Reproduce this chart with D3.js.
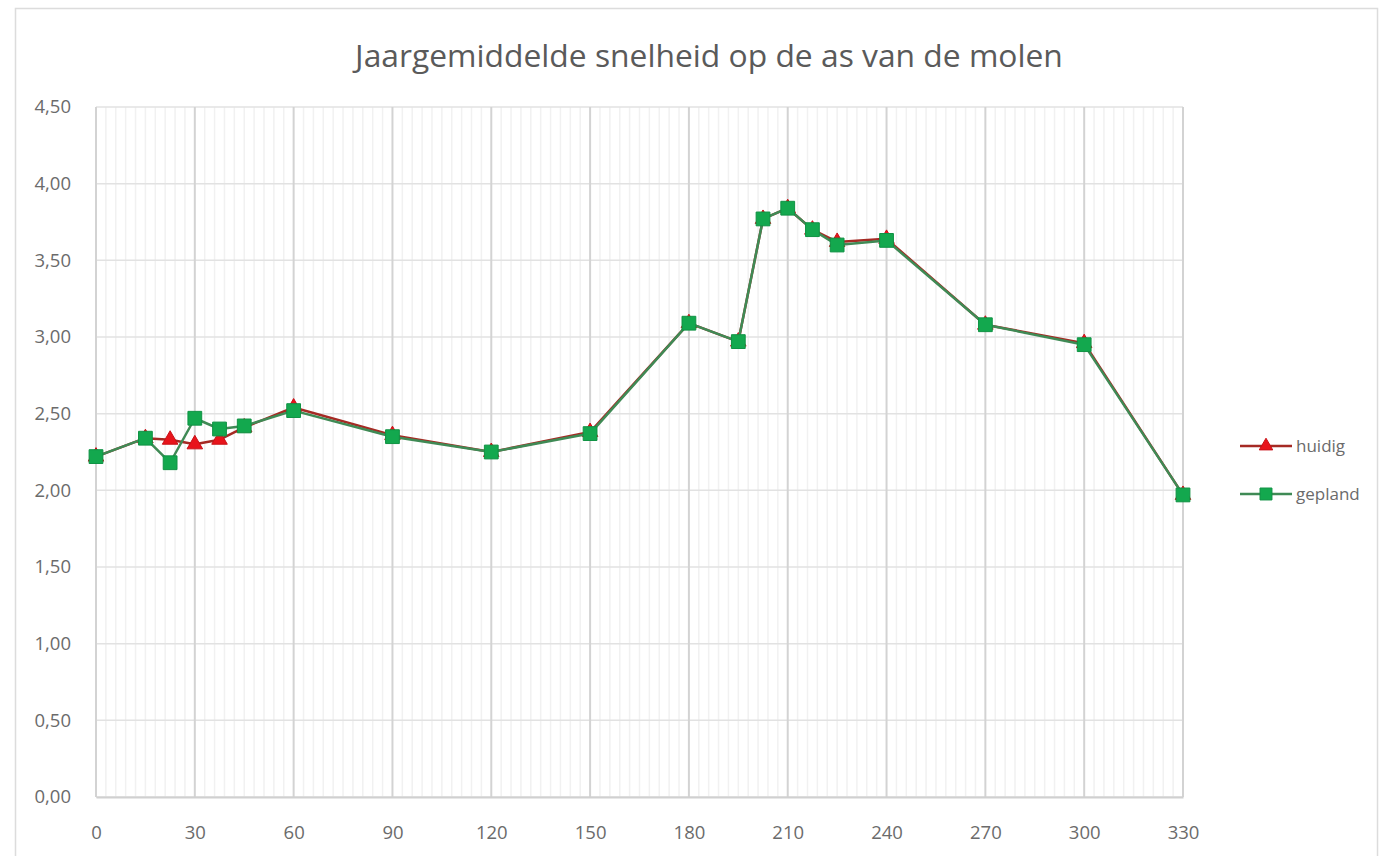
<!DOCTYPE html>
<html>
<head>
<meta charset="utf-8">
<script src="https://cdn.jsdelivr.net/npm/d3@7"></script>
<style>
  html, body { margin: 0; padding: 0; background: #fff; }
  svg { display: block; }
</style>
</head>
<body>
<svg id="chart" width="1383" height="856"></svg>
<script>
// Wind direction (degrees) at which the annual mean speed was computed
const directions = [0, 15, 22.5, 30, 37.5, 45, 60, 90, 120, 150, 180, 195, 202.5, 210, 217.5, 225, 240, 270, 300, 330];
// Annual mean wind speed at the mill axis, current situation
const huidig  = [2.22, 2.34, 2.33, 2.30, 2.33, 2.41, 2.54, 2.36, 2.25, 2.38, 3.09, 2.97, 3.77, 3.84, 3.70, 3.62, 3.64, 3.08, 2.96, 1.97];
// Annual mean wind speed at the mill axis, planned situation
const gepland = [2.22, 2.34, 2.18, 2.47, 2.40, 2.42, 2.52, 2.35, 2.25, 2.37, 3.09, 2.97, 3.77, 3.84, 3.70, 3.60, 3.63, 3.08, 2.95, 1.97];

const xTicks = [0, 30, 60, 90, 120, 150, 180, 210, 240, 270, 300, 330];
const yTicks = [0, 0.5, 1, 1.5, 2, 2.5, 3, 3.5, 4, 4.5];
const title = "Jaargemiddelde snelheid op de as van de molen";

const svg = d3.select("#chart");
const FONT = "'Open Sans', Lato, sans-serif";

// chart frame
svg.append("rect")
  .attr("x", 15.5).attr("y", 8.5).attr("width", 1362).attr("height", 870)
  .attr("fill", "#fff").attr("stroke", "#dcdcdc").attr("stroke-width", 1.5);

const x = d3.scaleLinear().domain([0, 330]).range([96, 1183]);
const y = d3.scaleLinear().domain([0, 4.5]).range([797, 107]);

// minor vertical gridlines
const minor = d3.range(0, 331, 3).filter(v => v % 30 !== 0);
svg.append("g").selectAll("line").data(minor).join("line")
  .attr("x1", d => x(d)).attr("x2", d => x(d))
  .attr("y1", y(4.5)).attr("y2", y(0))
  .attr("stroke", "#f1f1f1").attr("stroke-width", 1.5);

// major gridlines
svg.append("g").selectAll("line").data(yTicks).join("line")
  .attr("x1", x(0)).attr("x2", x(330))
  .attr("y1", d => y(d)).attr("y2", d => y(d))
  .attr("stroke", "#e2e2e2").attr("stroke-width", 1.5);
svg.append("g").selectAll("line").data(xTicks).join("line")
  .attr("x1", d => x(d)).attr("x2", d => x(d))
  .attr("y1", y(4.5)).attr("y2", y(0))
  .attr("stroke", "#d3d3d3").attr("stroke-width", 2);

// axes with tick labels
const fmt = d => d3.format(".2f")(d).replace(".", ",");
const yAxis = svg.append("g").attr("transform", `translate(${x(0) - 22},0)`)
  .call(d3.axisLeft(y).tickValues(yTicks).tickFormat(fmt).tickSize(0));
yAxis.select(".domain").remove();
yAxis.selectAll("text").attr("font-family", FONT).attr("font-size", 18.5).attr("fill", "#6b6b6b");

const xAxis = svg.append("g").attr("transform", `translate(0,${y(0)})`)
  .call(d3.axisBottom(x).tickValues(xTicks).tickSize(0).tickPadding(29));
xAxis.select(".domain").attr("stroke", "#d0d0d0").attr("stroke-width", 2);
xAxis.selectAll("text").attr("font-family", FONT).attr("font-size", 18.5).attr("fill", "#6b6b6b");

// title
svg.append("text")
  .attr("x", 709).attr("y", 67).attr("text-anchor", "middle")
  .attr("font-family", FONT).attr("font-size", 31.8).attr("fill", "#5a5a5a")
  .text(title);

// series
const series = [
  { name: "huidig",  values: huidig,  line: "#a52a24", marker: "#e8141b", shape: d3.symbolTriangle, size: 105 },
  { name: "gepland", values: gepland, line: "#3f8a55", marker: "#13a84e", shape: d3.symbolSquare,   size: 190 }
];

const line = d3.line().x(d => x(d[0])).y(d => y(d[1]));

series.forEach(s => {
  const pts = directions.map((d, i) => [d, s.values[i]]);
  const g = svg.append("g");
  g.append("path").datum(pts)
    .attr("d", line).attr("fill", "none")
    .attr("stroke", s.line).attr("stroke-width", 2.5).attr("stroke-linejoin", "round");
  g.selectAll("path.m").data(pts).join("path").attr("class", "m")
    .attr("transform", d => `translate(${x(d[0])},${y(d[1])})`)
    .attr("d", d3.symbol().type(s.shape).size(s.size))
    .attr("fill", s.marker).attr("stroke", d3.color(s.marker).darker(0.4)).attr("stroke-width", 1);
});

// legend
const legend = svg.append("g");
series.forEach((s, i) => {
  const ly = 446 + i * 48;
  legend.append("line")
    .attr("x1", 1240).attr("x2", 1292).attr("y1", ly).attr("y2", ly)
    .attr("stroke", s.line).attr("stroke-width", 2.5);
  legend.append("path")
    .attr("transform", `translate(1266,${ly})`)
    .attr("d", d3.symbol().type(s.shape).size(s.size * 0.75))
    .attr("fill", s.marker).attr("stroke", d3.color(s.marker).darker(0.4));
  legend.append("text")
    .attr("x", 1296).attr("y", ly).attr("dy", "0.35em")
    .attr("font-family", FONT).attr("font-size", 17).attr("fill", "#6b6b6b")
    .text(s.name);
});
</script>
</body>
</html>
